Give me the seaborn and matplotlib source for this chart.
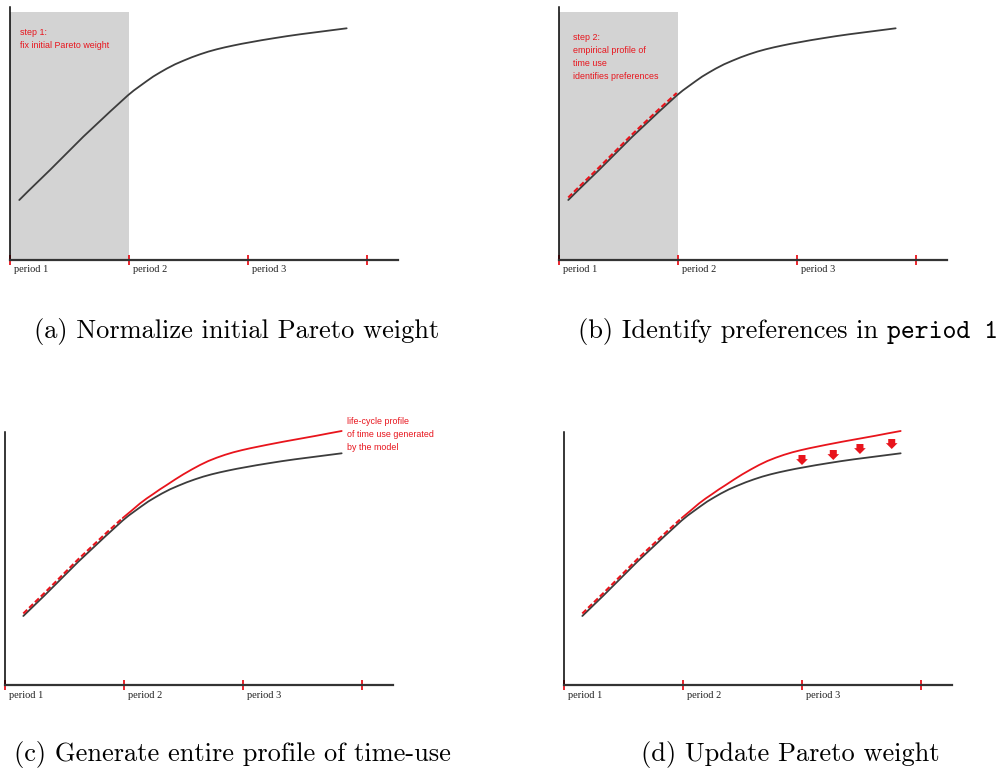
import matplotlib
matplotlib.use("Agg")
import matplotlib.pyplot as plt
import seaborn as sns
import numpy as np

# ---------------- data ----------------
period_ticks = [0, 1, 2, 3]
period_labels = ["period 1", "period 2", "period 3"]

# empirical life-cycle profile of time use (black)
black_x = [0.078, 0.154, 0.336, 0.616, 0.840, 0.920, 0.989, 1.040, 1.092, 1.150,
           1.204, 1.260, 1.317, 1.387, 1.457, 1.527, 1.597, 1.667, 1.737, 1.807,
           1.877, 1.947, 2.017, 2.115, 2.213, 2.325, 2.437, 2.535, 2.633, 2.731, 2.829]
black_y = [60, 69, 90, 123.3, 148.3, 157, 164.5, 169.5, 174, 179,
           183.5, 187.5, 191.4, 195.7, 199.3, 202.7, 205.7, 208.4, 210.7, 212.7,
           214.5, 216.2, 217.7, 219.8, 221.7, 223.8, 225.7, 227.2, 228.7, 230.2, 231.7]

# period-1 fitted profile (red dashed)
fit_x = [0.078, 0.154, 0.336, 0.616, 0.840, 0.920, 0.989]
fit_y = [62.5, 71.5, 92.5, 125.8, 150.8, 159.5, 167]

# model-generated profile after period 1 (red solid)
model_x = [0.989, 1.060, 1.134, 1.190, 1.246, 1.300, 1.359, 1.429, 1.499, 1.569,
           1.639, 1.709, 1.779, 1.849, 1.919, 1.989, 2.059, 2.199, 2.339, 2.479,
           2.619, 2.724, 2.829]
model_y = [167, 174, 181.5, 186.5, 191, 195.5, 200, 205.5, 210.7, 215.5,
           220, 224, 227.3, 230.2, 232.7, 234.8, 236.7, 240.1, 243.3, 246.3,
           249.3, 251.7, 254]

# update arrows in panel (d)
arrow_x = [2.00, 2.263, 2.487, 2.754]
arrow_tail = [230, 235, 241, 246]
arrow_tip = [220, 225, 231, 236]

captions = ["(a) Normalize initial Pareto weight",
            "(b) Identify preferences in",
            "period 1",
            "(c) Generate entire profile of time-use",
            "(d) Update Pareto weight"]
note_a = "step 1:\nfix initial Pareto weight"
note_b = "step 2:\nempirical profile of\ntime use\nidentifies preferences"
note_c = "life-cycle profile\nof time use generated\nby the model"

# ---------------- style ----------------
sns.set_style("white")
plt.rcParams["font.family"] = ["DejaVu Sans"]

RED = "#e8141c"
BLACK = "#3c3c3c"
GRAY = "#d3d3d3"
W, H = 999, 771
UNIT = 119.0        # pixels per period
AX_W, AX_H = 388, 253

fig = plt.figure(figsize=(W / 100, H / 100), dpi=100)
fig.patch.set_facecolor("white")


def make_ax(left_px, bottom_px):
    ax = fig.add_axes([left_px / W, (H - bottom_px) / H, AX_W / W, AX_H / H])
    ax.set_xlim(0, AX_W / UNIT)
    ax.set_ylim(0, AX_H)
    ax.set_facecolor("none")
    for s in ["top", "right"]:
        ax.spines[s].set_visible(False)
    ax.spines["left"].set_color("black")
    ax.spines["left"].set_linewidth(1.1)
    ax.spines["bottom"].set_color("#333333")
    ax.spines["bottom"].set_linewidth(1.6)
    ax.set_yticks([])
    ax.set_xticks(period_ticks)
    ax.set_xticklabels([])
    ax.tick_params(axis="x", direction="inout", length=7.5, width=1.3,
                   color=RED, bottom=True)
    for t, lab in zip(period_ticks[:-1], period_labels):
        ax.text(t + 4 / UNIT, -10, lab, ha="left", va="center",
                fontsize=7.5, family="Liberation Serif", color="#222222",
                clip_on=False)
    ax.set_xlabel("")
    ax.set_ylabel("")
    return ax


axA = make_ax(10, 260)
axB = make_ax(559, 260)
axC = make_ax(5, 685)
axD = make_ax(564, 685)

# shaded period-1 band
for ax in (axA, axB):
    ax.axvspan(0, 1, ymin=0, ymax=248 / AX_H, color=GRAY, lw=0, zorder=0)

# black curves
for ax in (axA, axB):
    sns.lineplot(x=black_x, y=black_y, ax=ax, color=BLACK, lw=1.3, zorder=3)
for ax in (axC, axD):
    sns.lineplot(x=black_x[1:], y=black_y[1:], ax=ax, color=BLACK, lw=1.3, zorder=3)

# dashed red fit in period 1
DASH = (0, (2.6, 1.3))
sns.lineplot(x=fit_x, y=fit_y, ax=axB, color=RED, lw=1.5, linestyle=DASH, zorder=4)
for ax in (axC, axD):
    sns.lineplot(x=fit_x[1:], y=fit_y[1:], ax=ax, color=RED, lw=1.5,
                 linestyle=DASH, zorder=4)
    sns.lineplot(x=model_x, y=model_y, ax=ax, color=RED, lw=1.3, zorder=4)

for ax in (axA, axB, axC, axD):
    for ln in ax.lines:
        ln.set_clip_on(False)
        ln.set_solid_capstyle("round")
    if ax.get_legend():
        ax.get_legend().remove()

# arrows in (d)
for x, t0, t1 in zip(arrow_x, arrow_tail, arrow_tip):
    axD.annotate("", xy=(x, t1), xytext=(x, t0),
                 arrowprops=dict(arrowstyle="simple,head_length=0.35,head_width=0.7,tail_width=0.42",
                                 color=RED, lw=0, shrinkA=0, shrinkB=0,
                                 mutation_scale=12))

# red notes
note_kw = dict(ha="left", va="top", fontsize=6.4, family="Liberation Sans",
               color=RED, linespacing=1.55)
fig.text(20 / W, 1 - 28 / H, note_a, **note_kw)
fig.text(573 / W, 1 - 33 / H, note_b, **note_kw)
fig.text(347 / W, 1 - 417 / H, note_c, **note_kw)

# captions
cap_kw = dict(va="baseline", fontsize=19, color="black")
fig.text(237 / W, 1 - 338 / H, captions[0], ha="center", family="cmr10", **cap_kw)
fig.text(878 / W, 1 - 338 / H, captions[1], ha="right", family="cmr10", **cap_kw)
fig.text(887 / W, 1 - 338 / H, captions[2], ha="left", family="cmtt10", **cap_kw)
fig.text(232 / W, 1 - 761 / H, captions[3], ha="center", family="cmr10", **cap_kw)
fig.text(790 / W, 1 - 761 / H, captions[4], ha="center", family="cmr10", **cap_kw)

fig.savefig("out.png", dpi=100, facecolor="white")
